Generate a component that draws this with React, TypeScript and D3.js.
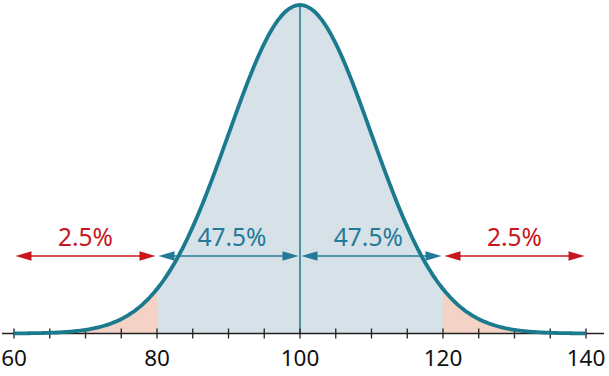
import React from "react";
import * as d3 from "d3";

const MEAN = 100;
const SD = 10;
const X_DOMAIN = [60, 140];
const MINOR_TICKS = [60, 65, 70, 75, 80, 85, 90, 95, 100, 105, 110, 115, 120, 125, 130, 135, 140];
const TICK_LABELS = [60, 80, 100, 120, 140];
const REGIONS = [
  { from: 60, to: 80, label: "2.5%", kind: "tail" },
  { from: 80, to: 100, label: "47.5%", kind: "mid" },
  { from: 100, to: 120, label: "47.5%", kind: "mid" },
  { from: 120, to: 140, label: "2.5%", kind: "tail" },
];

const W = 609;
const H = 376;
const TEAL = "#1b7a8e";
const TEAL_TEXT = "#237a98";
const RED = "#c8161e";
const BLUE_FILL = "#d6e1e8";
const PINK_FILL = "#f5d2c6";

export default function App() {
  const x = d3.scaleLinear().domain(X_DOMAIN).range([14, 586]);
  const baseY = 333.5;
  const pdf = (v: number) => Math.exp(-((v - MEAN) ** 2) / (2 * SD * SD));
  const y = d3.scaleLinear().domain([0, 1]).range([baseY, 5]);
  const samples = d3.range(X_DOMAIN[0], X_DOMAIN[1] + 0.0001, 0.25);
  const line = d3
    .line<number>()
    .x((d) => x(d))
    .y((d) => y(pdf(d)))
    .curve(d3.curveMonotoneX);
  const area = d3
    .area<number>()
    .x((d) => x(d))
    .y0(baseY)
    .y1((d) => y(pdf(d)))
    .curve(d3.curveMonotoneX);
  const sub = (a: number, b: number) => samples.filter((s) => s >= a - 1e-9 && s <= b + 1e-9);

  const arrowY = 256;
  const font = "'Noto Sans', 'Open Sans', sans-serif";

  const arrow = (x1: number, x2: number, color: string, key: string) => {
    const hl = 16;
    const hw = 4.8;
    return (
      <g key={key}>
        <line x1={x1 + hl - 1} x2={x2 - hl + 1} y1={arrowY} y2={arrowY} stroke={color} strokeWidth={1.6} />
        <path d={`M${x1},${arrowY} L${x1 + hl},${arrowY - hw} L${x1 + hl},${arrowY + hw} Z`} fill={color} />
        <path d={`M${x2},${arrowY} L${x2 - hl},${arrowY - hw} L${x2 - hl},${arrowY + hw} Z`} fill={color} />
      </g>
    );
  };

  const labelX = (r: { from: number; to: number; kind: string }) => {
    const c = (x(r.from) + x(r.to)) / 2;
    if (r.kind !== "mid") return c;
    return c + (x(MEAN) > c ? 3.5 : -3.2);
  };

  return (
    <svg width={W} height={H} style={{ position: "absolute", left: 0, top: 0 }}>
      <rect width={W} height={H} fill="#fff" />
      {REGIONS.map((r, i) => (
        <path key={"a" + i} d={area(sub(r.from, r.to)) || ""} fill={r.kind === "tail" ? PINK_FILL : BLUE_FILL} />
      ))}
      <line x1={x(MEAN)} x2={x(MEAN)} y1={y(1)} y2={baseY} stroke={TEAL} strokeWidth={1.5} />
      {REGIONS.map((r, i) => {
        const gap = 1.5;
        const color = r.kind === "tail" ? RED : TEAL_TEXT;
        return arrow(x(r.from) + gap, x(r.to) - gap, color, "ar" + i);
      })}
      {REGIONS.map((r, i) => (
        <text
          key={"t" + i}
          x={labelX(r)}
          y={246}
          textAnchor="middle"
          fontFamily={font}
          fontSize={24.5}
          fill={r.kind === "tail" ? RED : TEAL_TEXT}
        >
          {r.label}
        </text>
      ))}
      <line x1={2} x2={604} y1={baseY} y2={baseY} stroke="#222" strokeWidth={1.5} />
      {MINOR_TICKS.map((t) => (
        <line key={"k" + t} x1={x(t)} x2={x(t)} y1={baseY - 5} y2={baseY + 5} stroke="#222" strokeWidth={1.3} />
      ))}
      <path d={line(samples) || ""} fill="none" stroke={TEAL} strokeWidth={3.8} strokeLinejoin="round" />
      {TICK_LABELS.map((t) => (
        <text key={"l" + t} x={x(t)} y={365.5} textAnchor="middle" fontFamily={font} fontSize={22.5} fill="#111">
          {t}
        </text>
      ))}
    </svg>
  );
}
